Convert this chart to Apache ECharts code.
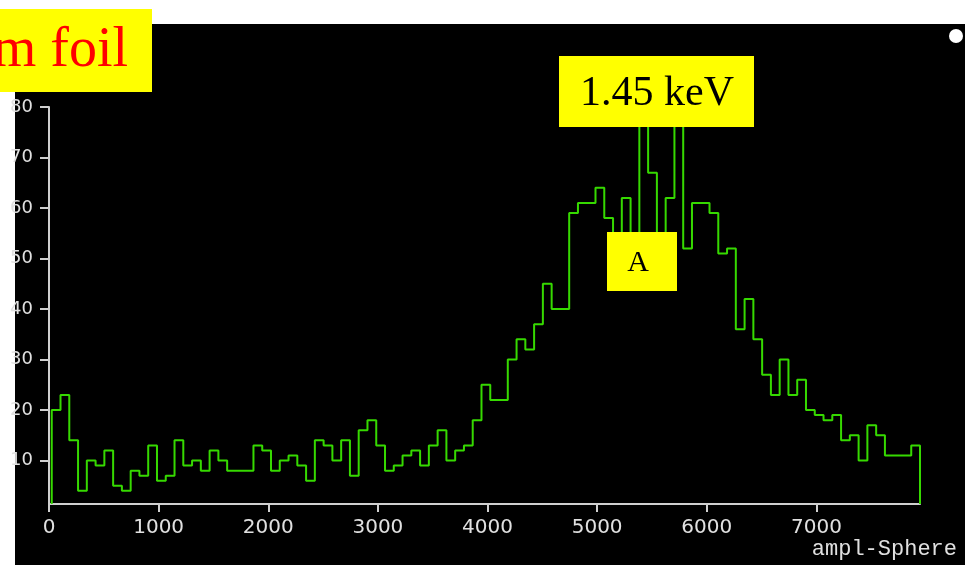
<!DOCTYPE html>
<html>
<head>
<meta charset="utf-8">
<script src="https://cdn.jsdelivr.net/npm/echarts@6/dist/echarts.min.js"></script>
<style>
  html, body { margin: 0; padding: 0; background: #ffffff; }
  #chart { width: 965px; height: 574px; }
</style>
</head>
<body>
<div id="chart"></div>
<script>
// ---- Data ----
const binStart = 25;      // left edge of first bin (ampl units)
const binWidth = 80;      // bin width (ampl units)
const counts = [
  20, 23, 14, 4, 10, 9, 12, 5, 4, 8,
  7, 13, 6, 7, 14, 9, 10, 8, 12, 10,
  8, 8, 8, 13, 12, 8, 10, 11, 9, 6,
  14, 13, 10, 14, 7, 16, 18, 13, 8, 9,
  11, 12, 9, 13, 16, 10, 12, 13, 18, 25,
  22, 22, 30, 34, 32, 37, 45, 40, 40, 59,
  61, 61, 64, 58, 52, 62, 48, 80, 67, 50,
  62, 80, 52, 61, 61, 59, 51, 52, 36, 42,
  34, 27, 23, 30, 23, 26, 20, 19, 18, 19,
  14, 15, 10, 17, 15, 11, 11, 11, 13
];
const xTickLabels = [0, 1000, 2000, 3000, 4000, 5000, 6000, 7000];
const yTickLabels = [10, 20, 30, 40, 50, 60, 70, 80];
const xAxisTitle = 'ampl-Sphere';
const boxLabels = ['m foil', '1.45 keV', 'A'];

const Y_MIN = 1.4;
const Y_MAX = 80;
const X_MIN = 0;
const X_MAX = binStart + counts.length * binWidth;

// histogram outline
const pts = [[binStart, Y_MIN]];
counts.forEach(function (c, i) {
  const x0 = binStart + i * binWidth;
  pts.push([x0, c], [x0 + binWidth, c]);
});
pts.push([X_MAX, Y_MIN]);

const axisCol = '#cfcfcf';
const plain = function (v) { return String(v); };
const chart = echarts.init(document.getElementById('chart'), null, { renderer: 'canvas' });
chart.setOption({
  backgroundColor: '#ffffff',
  animation: false,
  grid: { left: 49, right: 45, top: 107, bottom: 70 },
  xAxis: {
    type: 'value',
    min: X_MIN,
    max: X_MAX,
    axisLine: { show: true, lineStyle: { color: axisCol, width: 2 } },
    axisTick: { show: true, length: 8, customValues: xTickLabels, lineStyle: { color: axisCol, width: 2 } },
    axisLabel: {
      customValues: xTickLabels,
      formatter: plain,
      margin: 14,
      color: '#e0e0e0',
      fontFamily: 'DejaVu Sans',
      fontSize: 20
    },
    splitLine: { show: false }
  },
  yAxis: {
    type: 'value',
    min: Y_MIN,
    max: Y_MAX,
    axisLine: { show: true, lineStyle: { color: axisCol, width: 2 } },
    axisTick: { show: true, length: 9, customValues: yTickLabels, lineStyle: { color: axisCol, width: 2 } },
    axisLabel: {
      customValues: yTickLabels,
      formatter: plain,
      margin: 16,
      color: '#e0e0e0',
      fontFamily: 'DejaVu Sans',
      fontSize: 18
    },
    splitLine: { show: false }
  },
  series: [{
    type: 'line',
    data: pts,
    showSymbol: false,
    symbol: 'none',
    clip: true,
    lineStyle: { color: '#36d900', width: 2 },
    z: 3
  }],
  graphic: [
    { type: 'rect', z: -100, shape: { x: 15, y: 24, width: 950, height: 541 }, style: { fill: '#000000' } },
    { type: 'circle', z: 50, shape: { cx: 956, cy: 36, r: 7 }, style: { fill: '#ffffff' } },
    { type: 'rect', z: 100, shape: { x: 0, y: 9, width: 152, height: 83 }, style: { fill: '#ffff00' } },
    { type: 'text', z: 101, x: 128, y: 51, style: { text: boxLabels[0], fill: '#ff0000', font: '56px "Liberation Serif"', align: 'right', verticalAlign: 'middle' } },
    { type: 'rect', z: 100, shape: { x: 559, y: 56, width: 195, height: 71 }, style: { fill: '#ffff00' } },
    { type: 'text', z: 101, x: 657, y: 94, style: { text: boxLabels[1], fill: '#000000', font: '42px "Liberation Serif"', align: 'center', verticalAlign: 'middle' } },
    { type: 'rect', z: 100, shape: { x: 607, y: 232, width: 70, height: 59 }, style: { fill: '#ffff00' } },
    { type: 'text', z: 101, x: 638, y: 263, style: { text: boxLabels[2], fill: '#000000', font: '30px "Liberation Serif"', align: 'center', verticalAlign: 'middle' } },
    { type: 'text', z: 101, x: 957, y: 549, style: { text: xAxisTitle, fill: '#e0e0e0', font: '22px "Liberation Mono"', align: 'right', verticalAlign: 'middle' } }
  ]
});
</script>
</body>
</html>
